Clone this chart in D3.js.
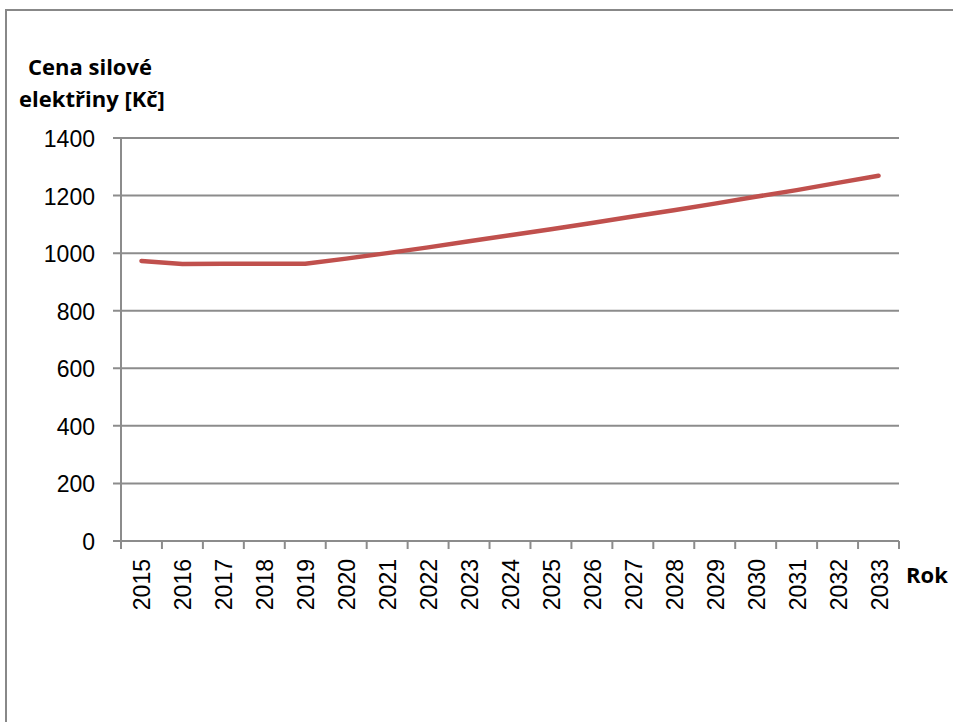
<html lang="cs">
<head>
<meta charset="UTF-8">
<script src="https://d3js.org/d3.v7.min.js"></script>
<style>
  * { margin: 0; padding: 0; }
  body { background: #fff; }
  svg { display: block; }
</style>
</head>
<body>
<div class="chart"></div>
<script>
  const w = 953;
  const h = 722;

  // data
  const years = ['2015', '2016', '2017', '2018', '2019', '2020', '2021', '2022', '2023', '2024',
                 '2025', '2026', '2027', '2028', '2029', '2030', '2031', '2032', '2033'];
  const prices = [973, 962, 963, 963, 963, 981, 1000, 1020, 1041, 1062,
                  1083, 1105, 1127, 1149, 1172, 1196, 1219, 1244, 1269];
  const yTicks = [0, 200, 400, 600, 800, 1000, 1200, 1400];

  const plot = { left: 121, right: 899, top: 138, bottom: 541 };

  const svg = d3.select('.chart').append('svg')
    .attr('width', w)
    .attr('height', h);

  // outer frame (only top and left edge are inside the window)
  svg.append('rect')
    .attr('x', 6).attr('y', 10)
    .attr('width', 960).attr('height', 730)
    .attr('fill', 'none')
    .attr('stroke', '#888')
    .attr('stroke-width', 2);

  const x = d3.scaleBand()
    .domain(years)
    .range([plot.left, plot.right]);

  const y = d3.scaleLinear()
    .domain([0, 1400])
    .range([plot.bottom, plot.top]);

  // gridlines
  svg.append('g')
    .selectAll('line')
    .data(yTicks)
    .enter()
    .append('line')
    .attr('x1', plot.left - 8)
    .attr('x2', plot.right)
    .attr('y1', (d) => y(d))
    .attr('y2', (d) => y(d))
    .attr('stroke', '#8c8c8c')
    .attr('stroke-width', 2);

  // y axis line
  svg.append('line')
    .attr('x1', plot.left).attr('x2', plot.left)
    .attr('y1', plot.top).attr('y2', plot.bottom)
    .attr('stroke', '#8c8c8c')
    .attr('stroke-width', 2);

  // y labels
  svg.append('g')
    .selectAll('text')
    .data(yTicks)
    .enter()
    .append('text')
    .attr('x', 95)
    .attr('y', (d) => y(d) + 1)
    .attr('text-anchor', 'end')
    .attr('dominant-baseline', 'central')
    .style('font-family', 'Liberation Sans, Arial, sans-serif')
    .style('font-size', '23px')
    .text((d) => d);

  // x tick marks on category boundaries
  const bounds = years.map((d) => x(d)).concat([plot.right]);
  svg.append('g')
    .selectAll('line')
    .data(bounds)
    .enter()
    .append('line')
    .attr('x1', (d) => d).attr('x2', (d) => d)
    .attr('y1', plot.bottom).attr('y2', plot.bottom + 8)
    .attr('stroke', '#8c8c8c')
    .attr('stroke-width', 2);

  // x labels, rotated
  svg.append('g')
    .selectAll('text')
    .data(years)
    .enter()
    .append('text')
    .attr('transform', (d) => 'translate(' + (x(d) + x.bandwidth() / 2 + 1) + ',' + 559 + ') rotate(-90)')
    .attr('text-anchor', 'end')
    .attr('dominant-baseline', 'central')
    .style('font-family', 'Liberation Sans, Arial, sans-serif')
    .style('font-size', '23px')
    .text((d) => d);

  // price line
  const line = d3.line()
    .x((d, i) => x(years[i]) + x.bandwidth() / 2)
    .y((d) => y(d));

  svg.append('path')
    .datum(prices)
    .attr('d', line)
    .attr('fill', 'none')
    .attr('stroke', '#c0504d')
    .attr('stroke-width', 4.5)
    .attr('stroke-linecap', 'round')
    .attr('stroke-linejoin', 'round');

  // axis titles
  const title = svg.append('text')
    .attr('text-anchor', 'middle')
    .style('font-family', 'Open Sans, sans-serif')
    .style('font-weight', 'bold')
    .style('font-size', '22px');
  title.append('tspan').attr('x', 90).attr('y', 75).text('Cena silové');
  title.append('tspan').attr('x', 92).attr('y', 107).text('elektřiny [Kč]');

  svg.append('text')
    .attr('x', 906)
    .attr('y', 583)
    .style('font-family', 'Open Sans, sans-serif')
    .style('font-weight', 'bold')
    .style('font-size', '22px')
    .text('Rok');
</script>
</body>
</html>
